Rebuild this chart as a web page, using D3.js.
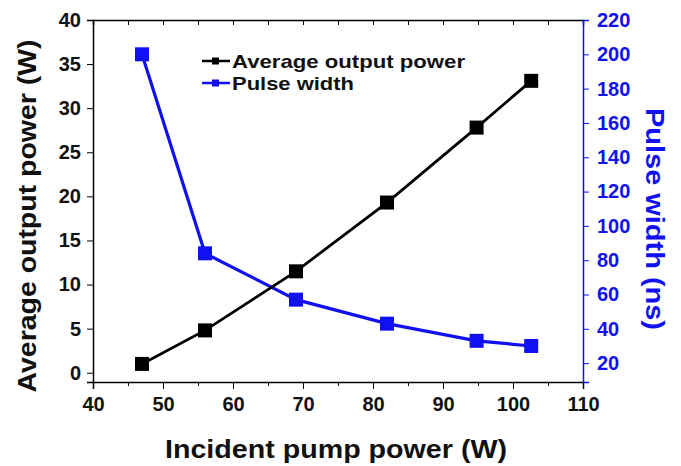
<!DOCTYPE html>
<html>
<head>
<meta charset="utf-8">
<script src="https://cdn.jsdelivr.net/npm/d3@7"></script>
<style>
  body { margin: 0; background: #fff; }
  svg text { font-family: "Liberation Sans", Arial, sans-serif; font-weight: bold; }
</style>
</head>
<body>
<div id="chart"></div>
<script>
const width = 681,
  height = 466;

const pumpPower = [47, 56, 69, 82, 94.8, 102.6];
const outputPower = [1.0, 4.8, 11.5, 19.3, 27.8, 33.1];
const pulseWidth = [200, 84, 57, 43, 33, 30];

const xTicks = [40, 50, 60, 70, 80, 90, 100, 110];
const xMinorTicks = [45, 55, 65, 75, 85, 95, 105];
const leftTicks = [0, 5, 10, 15, 20, 25, 30, 35, 40];
const rightTicks = [20, 40, 60, 80, 100, 120, 140, 160, 180, 200, 220];

const blue = "#1010f0";
const margin = { top: 20, right: 98, bottom: 84, left: 93 };

const x = d3.scaleLinear().domain([40, 110]).range([margin.left, width - margin.right]);
const yLeft = d3.scaleLinear().domain([-1.05, 40]).range([height - margin.bottom, margin.top]);
const yRight = d3.scaleLinear().domain([9, 220]).range([height - margin.bottom, margin.top]);

const svg = d3
  .select("#chart")
  .append("svg")
  .attr("width", width)
  .attr("height", height);

const bottom = height - margin.bottom,
  right = width - margin.right;

// frame top line with inward ticks
svg
  .append("g")
  .attr("transform", `translate(0,${margin.top})`)
  .call(d3.axisTop(x).tickValues(xTicks.concat(xMinorTicks)).tickSize(-5).tickFormat(""))
  .call((g) => g.select(".domain").attr("stroke-width", 1.5));

// bottom axis
svg
  .append("g")
  .attr("transform", `translate(0,${bottom})`)
  .call(d3.axisBottom(x).tickValues(xMinorTicks).tickSize(4).tickFormat(""))
  .call((g) => g.select(".domain").remove());

svg
  .append("g")
  .attr("transform", `translate(0,${bottom})`)
  .call(d3.axisBottom(x).tickValues(xTicks).tickSize(7).tickPadding(8))
  .call((g) => g.select(".domain").attr("stroke-width", 1.5))
  .call((g) => g.selectAll("text").attr("font-size", 20).attr("fill", "#111"));

// left axis
svg
  .append("g")
  .attr("transform", `translate(${margin.left},0)`)
  .call(d3.axisLeft(yLeft).tickValues(leftTicks).tickSize(6).tickPadding(6))
  .call((g) => g.select(".domain").attr("stroke-width", 1.5))
  .call((g) => g.selectAll("text").attr("font-size", 20).attr("fill", "#111"));

// right axis
svg
  .append("g")
  .attr("transform", `translate(${right},0)`)
  .call(d3.axisRight(yRight).tickValues(rightTicks).tickSize(6).tickPadding(8))
  .call((g) => g.select(".domain").attr("stroke", blue).attr("stroke-width", 1.5))
  .call((g) => g.selectAll("line").attr("stroke", blue))
  .call((g) => g.selectAll("text").attr("font-size", 20).attr("fill", blue));

// axis titles
svg
  .append("text")
  .attr("x", 336)
  .attr("y", 458)
  .attr("text-anchor", "middle")
  .attr("font-size", 25)
  .attr("textLength", 342)
  .attr("lengthAdjust", "spacingAndGlyphs")
  .attr("fill", "#111")
  .text("Incident pump power (W)");

svg
  .append("text")
  .attr("transform", `translate(36,216) rotate(-90)`)
  .attr("text-anchor", "middle")
  .attr("font-size", 25)
  .attr("textLength", 353)
  .attr("lengthAdjust", "spacingAndGlyphs")
  .attr("fill", "#111")
  .text("Average output power (W)");

svg
  .append("text")
  .attr("transform", `translate(646,219) rotate(90)`)
  .attr("text-anchor", "middle")
  .attr("font-size", 25)
  .attr("textLength", 222)
  .attr("lengthAdjust", "spacingAndGlyphs")
  .attr("fill", blue)
  .text("Pulse width (ns)");

// series
const blackData = pumpPower.map((p, i) => [p, outputPower[i]]);
const blueData = pumpPower.map((p, i) => [p, pulseWidth[i]]);

svg
  .append("path")
  .datum(blueData)
  .attr("fill", "none")
  .attr("stroke", blue)
  .attr("stroke-width", 3.2)
  .attr("d", d3.line().x((d) => x(d[0])).y((d) => yRight(d[1])));

svg
  .append("path")
  .datum(blackData)
  .attr("fill", "none")
  .attr("stroke", "#000")
  .attr("stroke-width", 2.8)
  .attr("d", d3.line().x((d) => x(d[0])).y((d) => yLeft(d[1])));

const sq = 14;
svg
  .append("g")
  .selectAll("rect")
  .data(blueData)
  .join("rect")
  .attr("x", (d) => x(d[0]) - sq / 2)
  .attr("y", (d) => yRight(d[1]) - sq / 2)
  .attr("width", sq)
  .attr("height", sq)
  .attr("fill", blue);

svg
  .append("g")
  .selectAll("rect")
  .data(blackData)
  .join("rect")
  .attr("x", (d) => x(d[0]) - sq / 2)
  .attr("y", (d) => yLeft(d[1]) - sq / 2)
  .attr("width", sq)
  .attr("height", sq)
  .attr("fill", "#000");

// legend
const legendItems = [
  { label: "Average output power", color: "#000", len: 233 },
  { label: "Pulse width", color: blue, len: 122 },
];

const legend = svg
  .append("g")
  .selectAll("g")
  .data(legendItems)
  .join("g")
  .attr("transform", (d, i) => `translate(202,${61 + i * 22})`);

legend
  .append("line")
  .attr("x1", 0)
  .attr("x2", 28)
  .attr("stroke", (d) => d.color)
  .attr("stroke-width", 2.5);

legend
  .append("rect")
  .attr("x", 10)
  .attr("y", -3.5)
  .attr("width", 7)
  .attr("height", 7)
  .attr("fill", (d) => d.color);

legend
  .append("text")
  .attr("x", 30)
  .attr("dy", "0.36em")
  .attr("font-size", 19)
  .attr("textLength", (d) => d.len)
  .attr("lengthAdjust", "spacingAndGlyphs")
  .attr("fill", "#111")
  .text((d) => d.label);
</script>
</body>
</html>
